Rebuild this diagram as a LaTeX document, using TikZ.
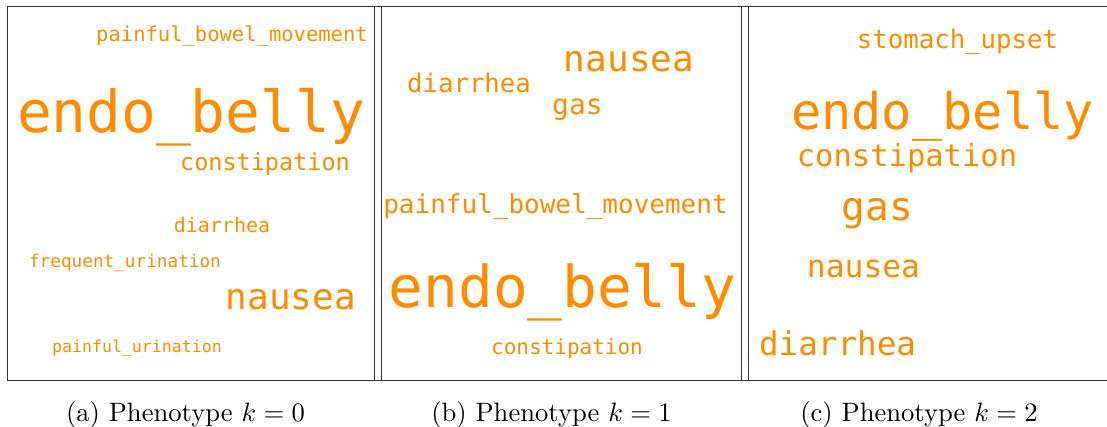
\documentclass[tikz,border=0pt]{standalone}
\usepackage{fontspec}
\newfontfamily\wcfont{DejaVu Sans Mono}
\definecolor{wcorange}{HTML}{FF8C00}
\definecolor{framegray}{HTML}{333333}
\tikzset{
  word/.style={text=wcorange, inner sep=0pt, anchor=base, font=\wcfont\fontsize{#1}{#1}\selectfont},
  caption/.style={inner sep=0pt, anchor=base, font=\normalsize, scale=2.66},
  frameline/.style={draw=framegray, line width=1pt}
}
\begin{document}
\begin{tikzpicture}[x=1pt,y=-1pt]
\useasboundingbox (0,0) rectangle (1107,427);
% frames
\draw[frameline] (7,7) -- (1108,7);
\draw[frameline] (7,380) -- (1108,380);
\foreach \xx in {7,374,381,741,748} {\draw[frameline] (\xx,7) -- (\xx,380);}
% panel a
\node[word=20.5] (a1) at (232,42) {painful\_bowel\_movement};
\node[word=57.8] (a2) at (191,133) {endo\_belly};
\node[word=23.5] (a3) at (265,171) {constipation};
\node[word=20] (a4) at (222,233) {diarrhea};
\node[word=17.7] (a5) at (125,268) {frequent\_urination};
\node[word=36] (a6) at (291,309) {nausea};
\node[word=16.6] (a7) at (137,352) {painful\_urination};
% panel b
\node[word=36] (b1) at (629,72) {nausea};
\node[word=25.7] (b2) at (469,93) {diarrhea};
\node[word=28] (b3) at (577.5,115) {gas};
\node[word=26] (b4) at (555.5,214) {painful\_bowel\_movement};
\node[word=57.7] (b5) at (562.5,308) {endo\_belly};
\node[word=21] (b6) at (567,354) {constipation};
% panel c
\node[word=25.7] (c1) at (957.5,49) {stomach\_upset};
\node[word=50.3] (c2) at (942.5,130) {endo\_belly};
\node[word=30.5] (c3) at (907,167) {constipation};
\node[word=39.5] (c4) at (877.5,221) {gas};
\node[word=31.3] (c5) at (863.5,278) {nausea};
\node[word=32.6] (c6) at (837.5,355) {diarrhea};
% captions
\node[caption] (capa) at (185.5,421) {(a) Phenotype $k=0$};
\node[caption] (capb) at (551.5,421) {(b) Phenotype $k=1$};
\node[caption] (capc) at (919,421) {(c) Phenotype $k=2$};
\end{tikzpicture}
\end{document}
